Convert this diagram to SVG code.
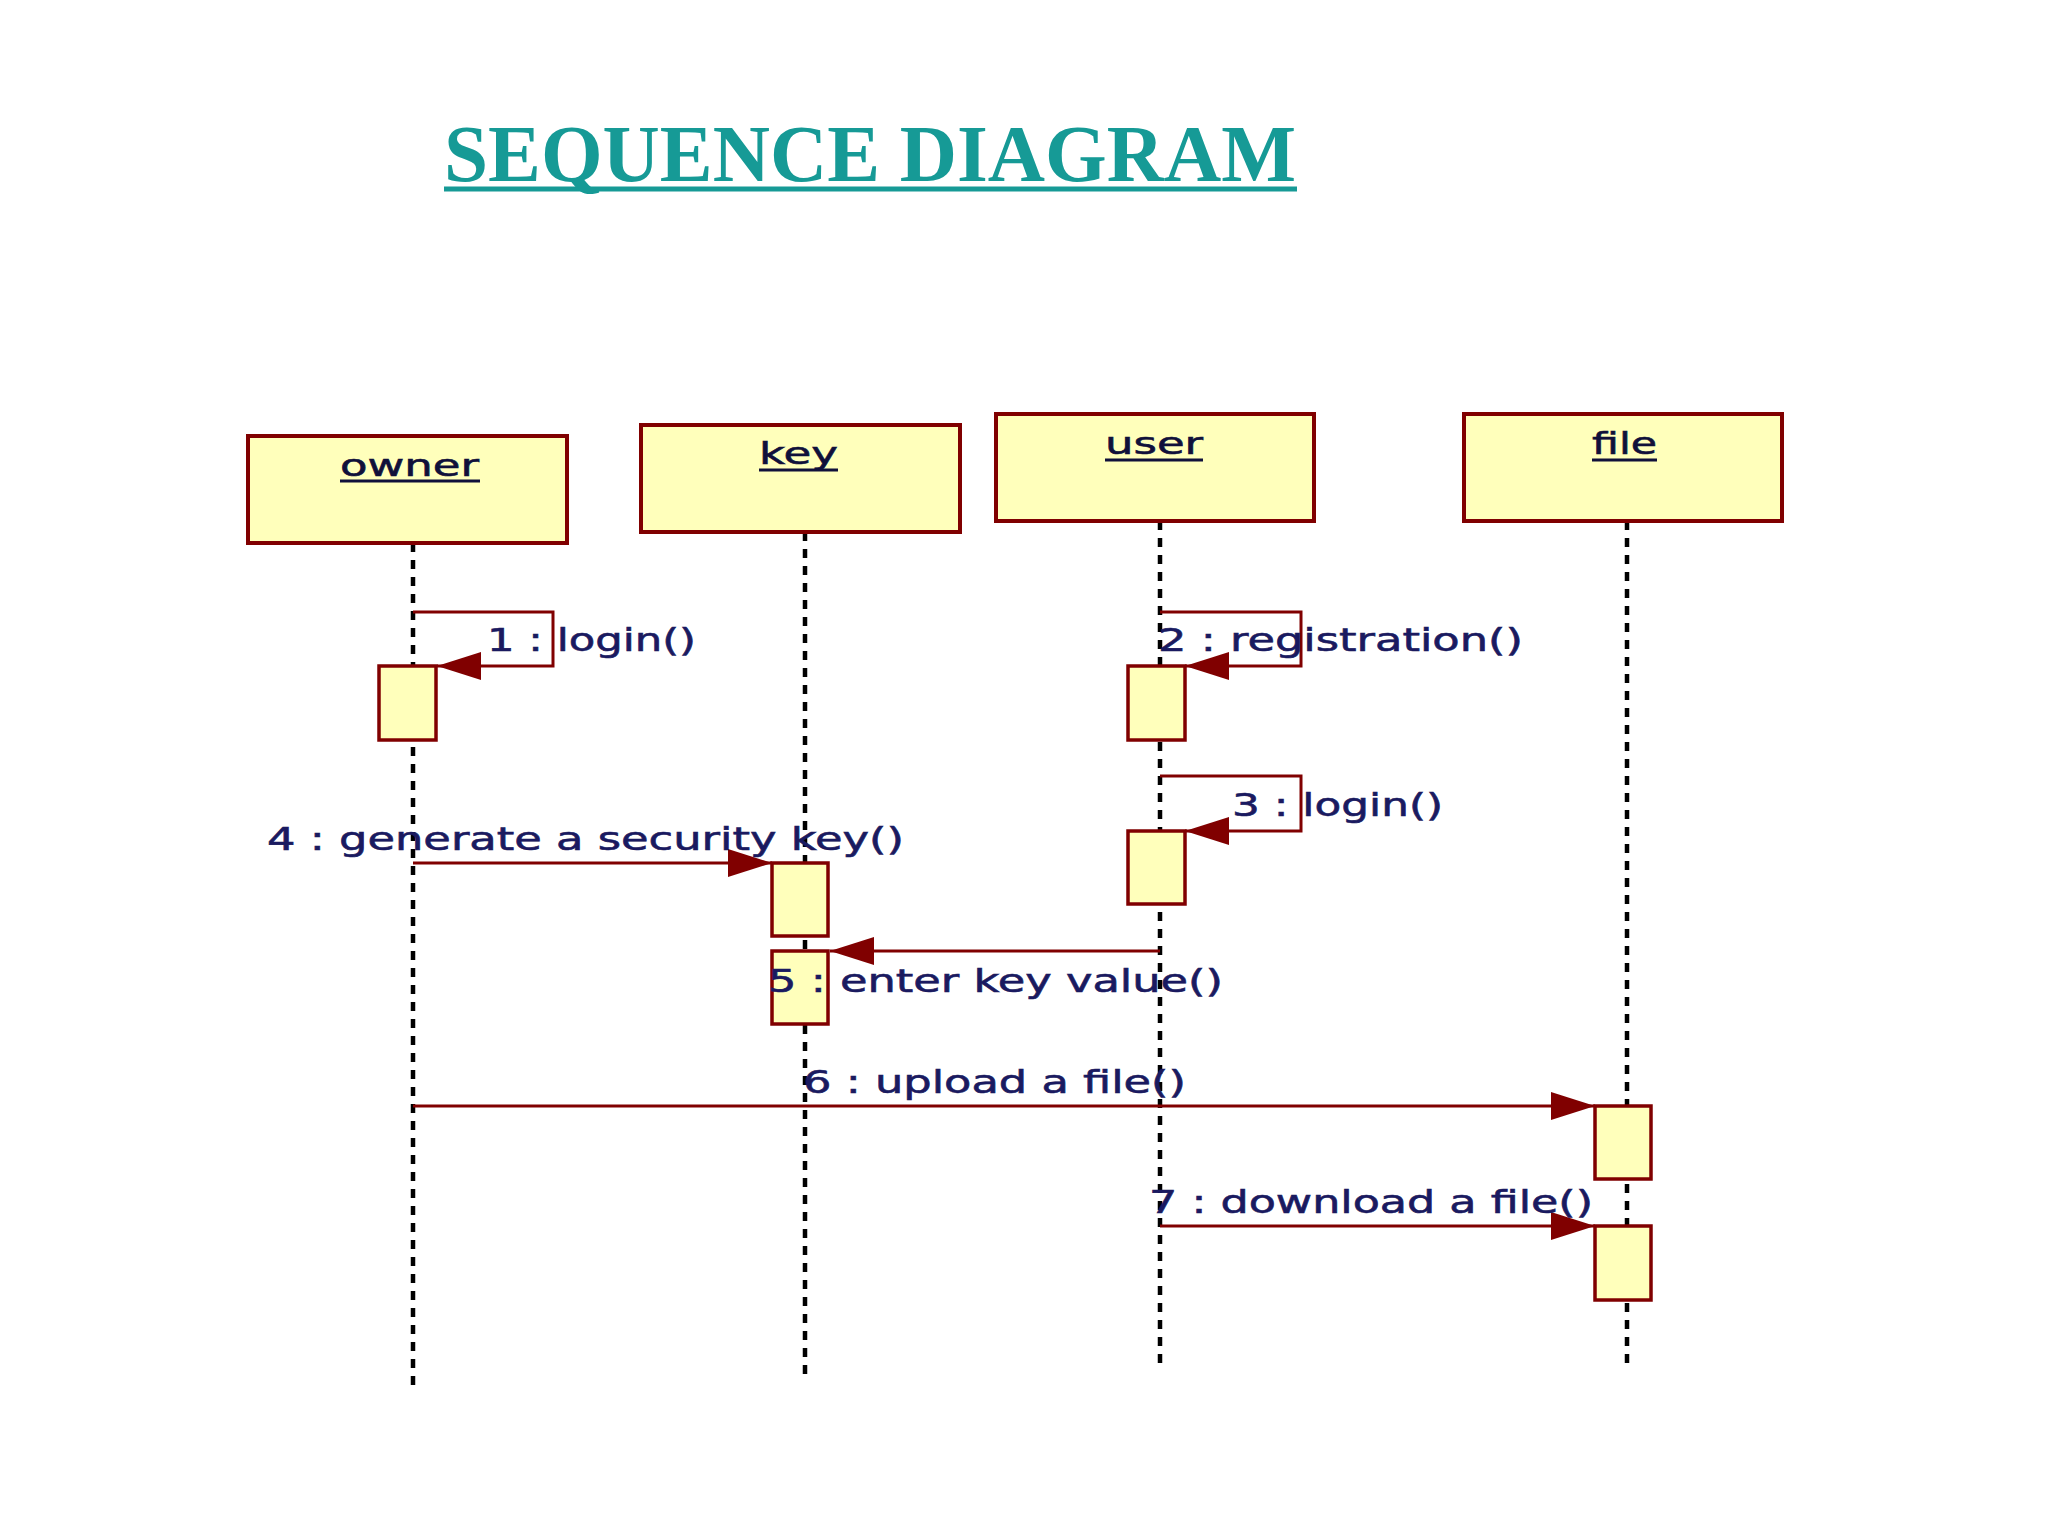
<svg xmlns="http://www.w3.org/2000/svg" width="2048" height="1536" viewBox="0 0 2048 1536">
<style>
.hdr{fill:#ffffbb;stroke:#800000;stroke-width:4}
.act{fill:#ffffbb;stroke:#800000;stroke-width:3.5}
.life{stroke:#000;stroke-width:4.5;stroke-dasharray:9 8;fill:none}
.msg{stroke:#800000;stroke-width:3;fill:none}
.hl{font-family:"DejaVu Sans","Liberation Sans",sans-serif;font-size:31px;fill:#10103a;stroke:#10103a;stroke-width:0.6}
.ml{font-family:"DejaVu Sans","Liberation Sans",sans-serif;font-size:32px;fill:#1a1a60;stroke:#1a1a60;stroke-width:0.6}
.ul{stroke:#10103a;stroke-width:3}
.title{font-family:"Liberation Serif","Times New Roman",serif;font-weight:bold;font-size:80px;fill:#169a96}
</style>
<defs>
<marker id="ah" markerUnits="userSpaceOnUse" markerWidth="44" markerHeight="28" refX="44" refY="14" orient="auto">
<path d="M0,0 L44,14 L0,28 z" fill="#800000"/>
</marker>
</defs>
<rect width="2048" height="1536" fill="#ffffff"/>
<g id="title">
<text class="title" x="444" y="181" textLength="852" lengthAdjust="spacingAndGlyphs">SEQUENCE DIAGRAM</text>
<line x1="444" y1="189" x2="1297" y2="189" stroke="#169a96" stroke-width="5"/>
</g>
<g id="lifelines">
<line class="life" x1="413" y1="543" x2="413" y2="1388"/>
<line class="life" x1="805" y1="532" x2="805" y2="1378"/>
<line class="life" x1="1160" y1="521" x2="1160" y2="1368"/>
<line class="life" x1="1627" y1="521" x2="1627" y2="1368"/>
</g>
<g id="owner">
<rect class="hdr" x="248" y="436" width="319" height="107"/>
<text class="hl" x="340" y="476" textLength="139" lengthAdjust="spacingAndGlyphs">owner</text>
<line class="ul" x1="340" y1="481" x2="480" y2="481"/>
<rect class="act" x="379" y="666" width="57" height="74"/>
</g>
<g id="key">
<rect class="hdr" x="641" y="425" width="319" height="107"/>
<text class="hl" x="759" y="464" textLength="79" lengthAdjust="spacingAndGlyphs">key</text>
<line class="ul" x1="759" y1="470" x2="838" y2="470"/>
<rect class="act" x="772" y="863" width="56" height="73"/>
<rect class="act" x="772" y="951" width="56" height="73"/>
</g>
<g id="user">
<rect class="hdr" x="996" y="414" width="318" height="107"/>
<text class="hl" x="1105" y="454" textLength="98" lengthAdjust="spacingAndGlyphs">user</text>
<line class="ul" x1="1105" y1="460" x2="1203" y2="460"/>
<rect class="act" x="1128" y="666" width="57" height="74"/>
<rect class="act" x="1128" y="831" width="57" height="73"/>
</g>
<g id="file">
<rect class="hdr" x="1464" y="414" width="318" height="107"/>
<text class="hl" x="1592" y="454" textLength="65" lengthAdjust="spacingAndGlyphs">file</text>
<line class="ul" x1="1592" y1="460" x2="1657" y2="460"/>
<rect class="act" x="1595" y="1106" width="56" height="73"/>
<rect class="act" x="1595" y="1226" width="56" height="74"/>
</g>
<g id="connectors">
<path class="msg" d="M413,612 H553 V666 H437" marker-end="url(#ah)"/>
<path class="msg" d="M1160,612 H1301 V666 H1185" marker-end="url(#ah)"/>
<path class="msg" d="M1160,776 H1301 V831 H1185" marker-end="url(#ah)"/>
<line class="msg" x1="413" y1="863" x2="772" y2="863" marker-end="url(#ah)"/>
<line class="msg" x1="1160" y1="951" x2="830" y2="951" marker-end="url(#ah)"/>
<line class="msg" x1="413" y1="1106" x2="1595" y2="1106" marker-end="url(#ah)"/>
<line class="msg" x1="1160" y1="1226" x2="1595" y2="1226" marker-end="url(#ah)"/>
</g>
<g id="labels">
<text class="ml" x="487" y="651" textLength="209" lengthAdjust="spacingAndGlyphs">1 : login()</text>
<text class="ml" x="1158" y="651" textLength="365" lengthAdjust="spacingAndGlyphs">2 : registration()</text>
<text class="ml" x="1232" y="816" textLength="211" lengthAdjust="spacingAndGlyphs">3 : login()</text>
<text class="ml" x="267" y="850" textLength="637" lengthAdjust="spacingAndGlyphs">4 : generate a security key()</text>
<text class="ml" x="768" y="992" textLength="455" lengthAdjust="spacingAndGlyphs">5 : enter key value()</text>
<text class="ml" x="803" y="1093" textLength="383" lengthAdjust="spacingAndGlyphs">6 : upload a file()</text>
<text class="ml" x="1149" y="1213" textLength="444" lengthAdjust="spacingAndGlyphs">7 : download a file()</text>
</g>
</svg>
